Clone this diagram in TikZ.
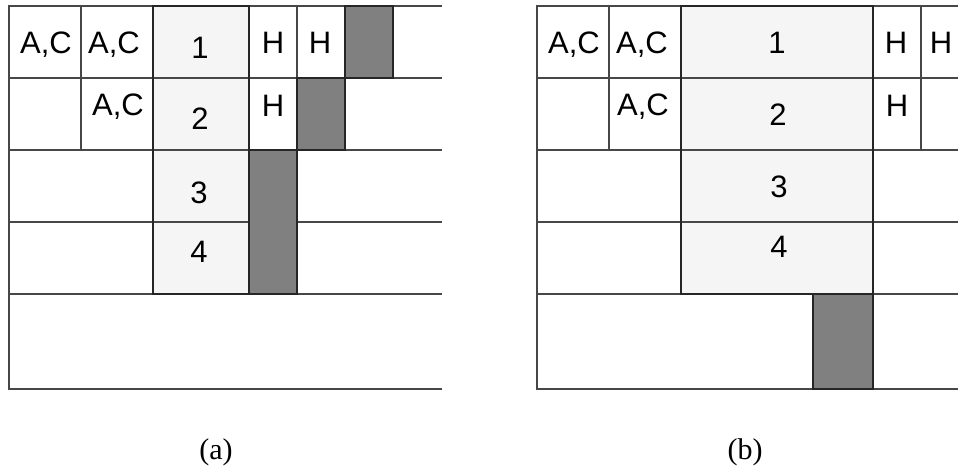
\documentclass[tikz,border=0pt]{standalone}
\usepackage{fontspec}
\setmainfont{Liberation Serif}
\newfontfamily\arialfont{Liberation Sans}
\begin{document}
\begin{tikzpicture}[x=1pt,y=-1pt,
  gridline/.style={draw=black!72, line width=1.4pt},
  lightbox/.style={draw=black!85, line width=1.4pt, fill=black!4},
  darkbox/.style={draw=black!85, line width=1.4pt, fill=black!50},
  lbl/.style={anchor=base, inner sep=0pt, font=\arialfont\fontsize{31}{37}\selectfont},
  captext/.style={anchor=base, inner sep=0pt, font=\fontsize{30}{34}\selectfont}]
\useasboundingbox (0,0) rectangle (958,468);
% ---------- panel (a) ----------
\draw[lightbox] (153,6) rectangle (249,294);
\draw[gridline] (442,6) -- (9,6) -- (9,389) -- (442,389);
\foreach \y in {78,150,222,294} \draw[gridline] (9,\y) -- (442,\y);
\draw[gridline] (81,6) -- (81,150);
\draw[gridline] (297,6) -- (297,150);
\draw[draw=black!85, line width=1.4pt] (153,6) rectangle (249,294);
\draw[darkbox] (345,6) rectangle (393,78);
\draw[darkbox] (297,78) rectangle (345,150);
\draw[darkbox] (249,150) rectangle (297,294);
\node[lbl] (a11) at (46,54) {A,C};
\node[lbl] (a12) at (114,54) {A,C};
\node[lbl] (a1) at (200,59) {1};
\node[lbl] (a1h1) at (273,54) {H};
\node[lbl] (a1h2) at (320,54) {H};
\node[lbl] (a22) at (118,116) {A,C};
\node[lbl] (a2) at (200,130) {2};
\node[lbl] (a2h1) at (273,117) {H};
\node[lbl] (a3) at (199,203) {3};
\node[lbl] (a4) at (199,262) {4};
% ---------- panel (b) ----------
\draw[lightbox] (681,6) rectangle (873,294);
\draw[gridline] (958,6) -- (537,6) -- (537,389) -- (958,389);
\foreach \y in {78,150,222,294} \draw[gridline] (537,\y) -- (958,\y);
\draw[gridline] (609,6) -- (609,150);
\draw[gridline] (921,6) -- (921,150);
\draw[draw=black!85, line width=1.4pt] (681,6) rectangle (873,294);
\draw[darkbox] (813,294) rectangle (873,389);
\node[lbl] (b11) at (574,54) {A,C};
\node[lbl] (b12) at (642,54) {A,C};
\node[lbl] (b1) at (777,54) {1};
\node[lbl] (b1h1) at (896,54) {H};
\node[lbl] (b1h2) at (941,54) {H};
\node[lbl] (b22) at (643,116) {A,C};
\node[lbl] (b2) at (778,125) {2};
\node[lbl] (b2h1) at (897,117) {H};
\node[lbl] (b3) at (779,197) {3};
\node[lbl] (b4) at (779,257) {4};
% ---------- captions ----------
\node[captext] (capa) at (216,459) {(a)};
\node[captext] (capb) at (745,459) {(b)};
\end{tikzpicture}
\end{document}
